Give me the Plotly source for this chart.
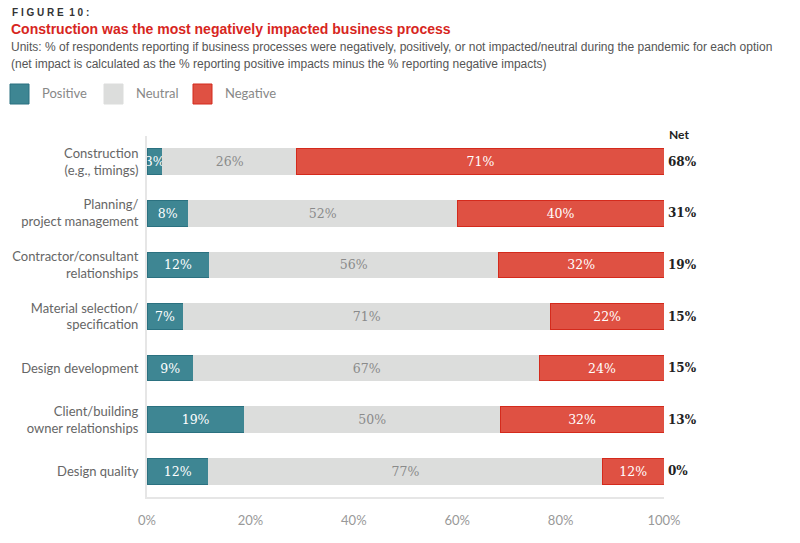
import plotly.graph_objects as go

categories = [
    "Construction<br>(e.g., timings)",
    "Planning/<br>project management",
    "Contractor/consultant<br>relationships",
    "Material selection/<br>specification",
    "Design development",
    "Client/building<br>owner relationships",
    "Design quality",
]
positive = [3, 8, 12, 7, 9, 19, 12]
neutral = [26, 52, 56, 71, 67, 50, 77]
negative = [71, 40, 32, 22, 24, 32, 12]
net = [68, 31, 19, 15, 15, 13, 0]
x_ticks = [0, 20, 40, 60, 80, 100]
x_tick_labels = ["0%", "20%", "40%", "60%", "80%", "100%"]

series_names = ["Positive", "Neutral", "Negative"]
fill_colors = ["#3e8693", "#dcdddc", "#df5143"]
line_colors = ["#2b7180", "#dcdddc", "#d42a1c"]
text_colors = ["#ffffff", "#8a8a8a", "#ffffff"]

totals = [p + n + g for p, n, g in zip(positive, neutral, negative)]
series = [positive, neutral, negative]

NUM_FONT = "DejaVu Serif"
SANS = "Lato"
HEAD = "Liberation Sans, Arial, sans-serif"

# page body has an 8px default margin: figure occupies window x/y 8..800 / 8..543
OFF = 8
W, H = 800 - OFF, 543 - OFF
PL, PR, PT, PB = 147, 664, 136, 497          # plot box in window pixels
PW, PH = PR - PL, PB - PT


def px(xw):
    return (xw - PL) / PW


def py(yw):
    return (PB - yw) / PH


fig = go.Figure()
for name, vals, fc, lc, tc in zip(series_names, series, fill_colors, line_colors, text_colors):
    fig.add_trace(go.Bar(
        y=categories,
        x=[v / t * 100 for v, t in zip(vals, totals)],
        orientation="h",
        name=name,
        text=[f"{v}%" for v in vals],
        texttemplate="%{text}",
        textposition="inside",
        insidetextanchor="middle",
        textangle=0,
        textfont=dict(family=NUM_FONT, size=12.5, color=tc),
        marker=dict(color=fc, line=dict(color=lc, width=1)),
        showlegend=False,
        hoverinfo="skip",
    ))

# Net column
fig.add_annotation(xref="paper", yref="paper", x=px(667), y=py(134), yanchor="middle",
                   xanchor="left", text="<b>Net</b>", showarrow=False,
                   font=dict(family=SANS, size=12, color="#222"))
for cat, n in zip(categories, net):
    fig.add_annotation(xref="paper", yref="y", x=px(666), y=cat, xanchor="left",
                       text=f"<b>{n}%</b>", showarrow=False,
                       font=dict(family=NUM_FONT, size=12, color="#222"))

# Header texts
fig.add_annotation(xref="paper", yref="paper", x=px(10), y=py(13), xanchor="left", yanchor="middle",
                   text="<b>F I G U R E  1 0 :</b>", showarrow=False,
                   font=dict(family=HEAD, size=10, color="#333"))
fig.add_annotation(xref="paper", yref="paper", x=px(9), y=py(29), xanchor="left", yanchor="middle",
                   text="<b>Construction was the most negatively impacted business process</b>", showarrow=False,
                   font=dict(family=HEAD, size=14, color="#d7261e"))
fig.add_annotation(xref="paper", yref="paper", x=px(9), y=py(47), xanchor="left", yanchor="middle",
                   text="Units: % of respondents reporting if business processes were negatively, positively, or not impacted/neutral during the pandemic for each option",
                   showarrow=False, font=dict(family=HEAD, size=12, color="#555"))
fig.add_annotation(xref="paper", yref="paper", x=px(9), y=py(64), xanchor="left", yanchor="middle",
                   text="(net impact is calculated as the % reporting positive impacts minus the % reporting negative impacts)",
                   showarrow=False, font=dict(family=HEAD, size=12, color="#555"))

# Legend (manual)
leg_x = [10, 104, 193]
for name, fc, lc, lx in zip(series_names, fill_colors, line_colors, leg_x):
    fig.add_shape(type="rect", xref="paper", yref="paper", x0=px(lx), x1=px(lx + 19),
                  y0=py(104), y1=py(84), fillcolor=fc, line=dict(color=lc, width=1))
    fig.add_annotation(xref="paper", yref="paper", x=px(lx + 30), y=py(93),
                       xanchor="left", yanchor="middle", text=name, showarrow=False,
                       font=dict(family=SANS, size=13, color="#888"))

fig.update_layout(
    barmode="stack",
    bargap=0.5,
    width=W, height=H,
    margin=dict(l=PL - OFF, r=800 - PR, t=PT - OFF, b=543 - PB, autoexpand=False),
    paper_bgcolor="white", plot_bgcolor="white",
    showlegend=False,
    uniformtext=dict(minsize=12, mode="show"),
    xaxis=dict(range=[0, 100], tickvals=x_ticks, ticktext=x_tick_labels, showgrid=False, zeroline=False,
               showline=True, linecolor="#e6e6e6", linewidth=2, ticks="", automargin=False,
               ticklabelstandoff=10,
               tickfont=dict(family=SANS, size=13, color="#999")),
    yaxis=dict(autorange="reversed", showgrid=False, zeroline=False, showline=True, automargin=False,
               linecolor="#e6e6e6", linewidth=2, ticks="", ticklabelstandoff=4,
               tickfont=dict(family=SANS, size=13, color="#666")),
)

fig.write_html("out.html")
